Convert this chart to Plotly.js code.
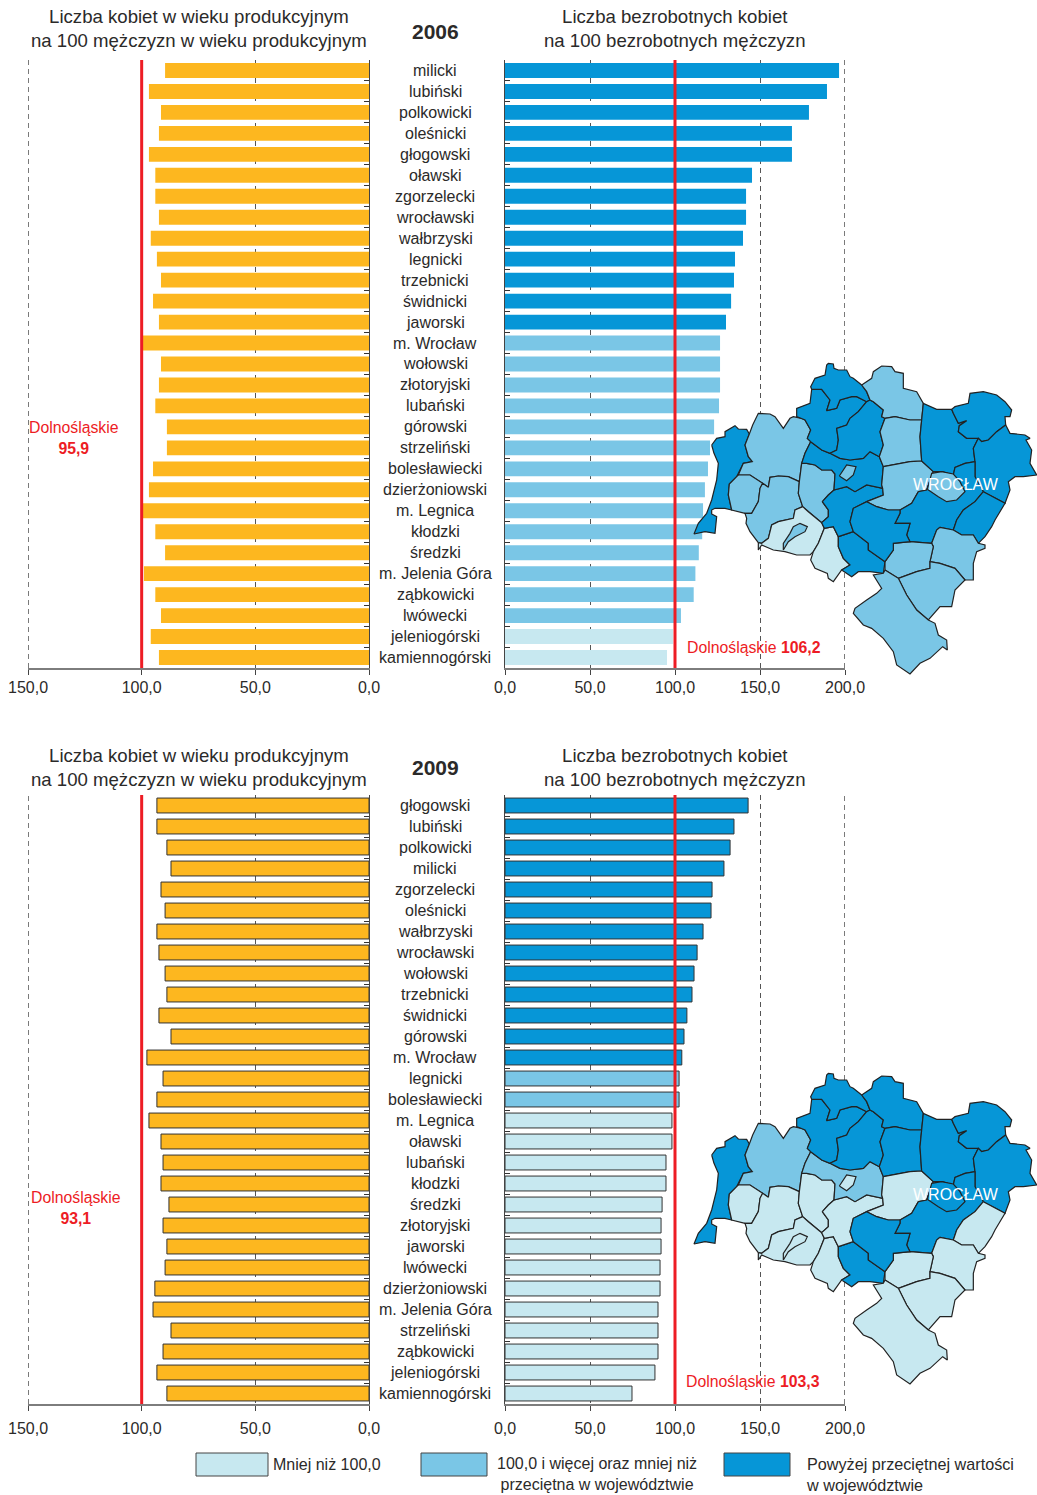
<!DOCTYPE html>
<html lang="pl">
<head>
<meta charset="utf-8">
<script src="https://cdn.plot.ly/plotly-3.0.1.min.js"></script>
<style>html,body{margin:0;padding:0;background:#fff}</style>
</head>
<body>
<div id="chart" style="width:1037px;height:1495px"></div>
<script>
// ---------- data ----------
const cats2006 = ["milicki","lubiński","polkowicki","oleśnicki","głogowski","oławski","zgorzelecki","wrocławski","wałbrzyski","legnicki","trzebnicki","świdnicki","jaworski","m. Wrocław","wołowski","złotoryjski","lubański","górowski","strzeliński","bolesławiecki","dzierżoniowski","m. Legnica","kłodzki","średzki","m. Jelenia Góra","ząbkowicki","lwówecki","jeleniogórski","kamiennogórski"];
const women2006 = [89.7,96.8,91.5,92.4,96.8,94,94,92.4,96,93.3,91.5,95,92.4,100.3,91.5,92.4,94,88.9,88.9,95,96.8,100.3,94,89.7,99,94,91.5,96,92.4];
const unemp2006 = [196.5,189.4,178.8,168.8,168.8,145.3,141.8,141.8,140,135.3,134.7,133,130,126.5,126.5,126.5,125.9,123,120.6,119.4,117.6,116.5,116,114,112,111,103.5,98.8,95.3];
const class2006 = [2,2,2,2,2,2,2,2,2,2,2,2,2,1,1,1,1,1,1,1,1,1,1,1,1,1,1,0,0];

const cats2009 = ["głogowski","lubiński","polkowicki","milicki","zgorzelecki","oleśnicki","wałbrzyski","wrocławski","wołowski","trzebnicki","świdnicki","górowski","m. Wrocław","legnicki","bolesławiecki","m. Legnica","oławski","lubański","kłodzki","średzki","złotoryjski","jaworski","lwówecki","dzierżoniowski","m. Jelenia Góra","strzeliński","ząbkowicki","jeleniogórski","kamiennogórski"];
const women2009 = [93.3,93.3,88.9,87.1,91.5,89.7,93.3,92.4,89.7,88.9,92.4,87.1,97.7,90.6,93.3,96.8,91.5,90.6,91.5,88,90.6,88.9,89.7,94.2,95,87.1,90.6,93.3,88.9];
const unemp2009 = [143,134.7,132.4,128.8,121.8,121.2,116.5,113,111.2,110,107,105.3,104,102.4,102.4,98.2,98.2,94.7,94.7,92.4,91.8,91.8,91.2,91.2,90,90,90,88.2,74.7];
const class2009 = [2,2,2,2,2,2,2,2,2,2,2,2,2,1,1,0,0,0,0,0,0,0,0,0,0,0,0,0,0];

const womenTicks = [150,100,50,0];
const unempTicks = [0,50,100,150,200];
const womenTickText = ["150,0","100,0","50,0","0,0"];
const unempTickText = ["0,0","50,0","100,0","150,0","200,0"];
const refLine = 100;
const womenEdge = 150;
const unempEdge = 200;
const classColors = ["#C7E8F0","#7AC6E6","#0696D7"];
const legendLabels = ["Mniej niż 100,0","100,0 i więcej oraz mniej niż<br>przeciętna w województwie","Powyżej przeciętnej wartości<br>w województwie"];
const leftTitle = "Liczba kobiet w wieku produkcyjnym<br>na 100 mężczyzn w wieku produkcyjnym";
const rightTitle = "Liczba bezrobotnych kobiet<br>na 100 bezrobotnych mężczyzn";

// ---------- map outlines (map units) ----------
const zgorzelecki = [[65,285],[80,265],[105,260],[105,245],[135,227],[145,237],[170,238],[178,252],[165,285],[175,320],[187,335],[160,340],[145,370],[140,380],[118,402],[115,435],[125,480],[105,475],[75,475],[65,480],[65,492],[80,500],[75,550],[45,545],[12,552],[25,520],[50,490],[65,450],[80,390],[85,340],[72,310]];
const boleslawiecki = [[178,252],[188,225],[205,190],[240,192],[255,200],[280,235],[300,205],[310,200],[335,205],[345,210],[362,240],[352,265],[362,275],[345,310],[335,340],[328,395],[295,380],[265,378],[240,382],[235,412],[218,400],[195,385],[180,375],[145,375],[160,340],[187,335],[175,320],[165,285]];
const lubanski = [[145,375],[180,375],[218,400],[210,415],[205,455],[185,490],[165,490],[140,485],[125,480],[115,435],[118,402],[140,380]];
const lwowecki = [[235,412],[240,382],[265,378],[295,380],[328,395],[325,430],[338,470],[315,480],[310,505],[265,515],[245,525],[235,565],[215,580],[205,578],[180,545],[168,520],[170,505],[165,490],[185,490],[205,455],[210,415],[218,400]];
const zlotoryjski = [[335,340],[350,340],[375,345],[395,360],[425,360],[435,372],[432,420],[415,435],[397,455],[415,480],[415,500],[395,518],[385,510],[355,485],[338,470],[325,430],[328,395]];
const jeleniogorski = [[205,578],[215,580],[235,565],[245,525],[265,515],[310,505],[315,480],[338,470],[355,485],[385,510],[395,518],[403,535],[385,580],[370,605],[360,615],[320,615],[285,605],[250,600],[215,585],[205,600]];
const kamiennogorski = [[403,535],[430,530],[445,560],[445,590],[460,625],[480,645],[455,660],[430,695],[415,685],[412,670],[375,655],[362,630],[370,605],[385,580]];
const walbrzyski = [[445,560],[490,545],[535,580],[535,600],[585,635],[580,670],[540,665],[505,665],[485,680],[455,660],[480,645],[460,625],[445,590]];
const jaworski = [[397,455],[415,435],[432,420],[470,410],[495,425],[530,405],[578,415],[580,435],[530,455],[490,475],[480,515],[490,545],[445,560],[430,530],[403,535],[395,518],[415,500],[415,480]];
const legnicki = [[362,275],[345,310],[335,340],[350,340],[375,345],[395,360],[425,360],[435,372],[432,420],[470,410],[495,425],[530,405],[578,415],[575,405],[580,350],[568,320],[540,305],[520,325],[480,330],[450,325],[420,310],[395,300]];
const polkowicki = [[362,275],[395,300],[420,310],[440,300],[445,270],[440,235],[470,225],[480,205],[505,185],[530,155],[500,140],[485,140],[450,150],[440,175],[410,182],[420,150],[395,118],[365,118],[360,160],[320,175],[320,200],[335,205],[345,210],[362,240],[352,265]];
const glogowski = [[365,118],[362,110],[375,85],[405,75],[410,45],[415,40],[430,42],[432,55],[445,60],[470,60],[480,80],[490,85],[515,105],[530,125],[540,150],[530,155],[500,140],[485,140],[450,150],[440,175],[410,182],[420,150],[395,118]];
const lubinski = [[530,155],[540,150],[550,155],[580,180],[575,200],[585,205],[570,245],[580,285],[568,320],[540,305],[520,325],[480,330],[450,325],[420,310],[440,300],[445,270],[440,235],[470,225],[480,205],[505,185]];
const gorowski = [[515,105],[545,85],[550,65],[575,48],[605,50],[615,65],[640,70],[640,115],[680,125],[690,145],[700,160],[695,210],[660,210],[615,200],[585,205],[575,200],[580,180],[550,155],[540,150],[530,125]];
const wolowski = [[585,205],[615,200],[660,210],[695,210],[690,260],[695,333],[660,335],[580,350],[568,320],[580,285],[570,245]];
const sredzki = [[580,350],[660,335],[695,333],[730,365],[710,420],[685,425],[665,460],[630,480],[595,480],[560,470],[530,455],[580,435],[578,415],[575,405]];
const trzebnicki = [[695,210],[700,160],[740,178],[785,178],[790,190],[805,220],[830,212],[808,227],[805,245],[830,265],[865,265],[850,295],[855,335],[825,340],[795,352],[790,375],[755,365],[730,365],[695,333],[690,260]];
const milicki = [[790,190],[785,178],[795,170],[835,160],[840,130],[880,125],[920,135],[945,155],[965,180],[960,200],[945,200],[947,225],[920,245],[895,270],[875,275],[865,265],[830,265],[805,245],[808,227],[830,212],[805,220]];
const olesnicki = [[855,335],[850,295],[865,265],[875,275],[895,270],[920,245],[947,225],[960,250],[1005,255],[1020,265],[1008,270],[1025,300],[1020,340],[1040,375],[1000,380],[975,380],[955,395],[960,420],[945,460],[905,438],[880,425],[855,380]];
const wroclawski = [[685,425],[710,420],[730,365],[755,365],[790,375],[795,352],[825,340],[855,335],[855,380],[880,425],[855,455],[820,480],[800,510],[790,540],[750,532],[740,540],[725,580],[660,575],[650,555],[660,520],[615,520],[630,490],[630,480],[665,460]];
const mWroclaw = [[712,418],[725,370],[755,365],[790,372],[810,395],[825,425],[800,450],[770,455],[745,440]];
const olawski = [[880,425],[905,438],[945,460],[915,510],[905,530],[885,560],[865,580],[850,555],[815,555],[790,540],[800,510],[820,480],[855,455]];
const strzelinski = [[750,532],[790,540],[815,555],[850,555],[865,580],[885,585],[885,595],[860,605],[850,640],[850,690],[825,690],[795,655],[750,640],[720,635],[730,590],[725,580],[740,540]];
const dzierzoniowski = [[610,580],[660,575],[725,580],[730,590],[720,635],[720,655],[680,665],[625,685],[585,660],[585,635],[610,600]];
const swidnicki = [[480,515],[490,475],[530,455],[560,470],[595,480],[630,480],[630,490],[615,520],[660,520],[650,555],[660,575],[610,580],[610,600],[585,635],[535,600],[535,580],[490,545]];
const zabkowicki = [[625,685],[680,665],[720,655],[720,635],[750,640],[795,655],[825,690],[795,720],[785,770],[750,770],[715,810],[680,780],[650,735]];
const klodzki = [[585,660],[625,685],[650,735],[680,780],[715,810],[735,820],[745,855],[770,870],[772,900],[758,890],[720,925],[690,940],[660,972],[620,945],[610,905],[580,865],[545,835],[520,825],[490,790],[495,775],[530,750],[560,730],[575,715],[550,675],[580,670]];
const mLegnica = [[448,378],[470,345],[498,350],[490,375],[470,392]];
const mJeleniaGora = [[280,600],[280,580],[300,550],[310,530],[330,520],[352,530],[345,545],[315,560],[295,575]];
const powiatOutlines = [["zgorzelecki",zgorzelecki],["bolesławiecki",boleslawiecki],["lubański",lubanski],["lwówecki",lwowecki],["złotoryjski",zlotoryjski],["jeleniogórski",jeleniogorski],["kamiennogórski",kamiennogorski],["wałbrzyski",walbrzyski],["jaworski",jaworski],["legnicki",legnicki],["polkowicki",polkowicki],["głogowski",glogowski],["lubiński",lubinski],["górowski",gorowski],["wołowski",wolowski],["średzki",sredzki],["trzebnicki",trzebnicki],["milicki",milicki],["oleśnicki",olesnicki],["wrocławski",wroclawski],["oławski",olawski],["strzeliński",strzelinski],["dzierżoniowski",dzierzoniowski],["świdnicki",swidnicki],["ząbkowicki",zabkowicki],["kłodzki",klodzki],["m. Wrocław",mWroclaw],["m. Legnica",mLegnica],["m. Jelenia Góra",mJeleniaGora]];

// ---------- layout helpers ----------
const W = 1037, H = 1495;
const FONT = "Liberation Sans, Arial, sans-serif";
const INK = "#2b2a29", RED = "#ED1C24", ORANGE = "#FDB71F";
const dx = (a,b)=>[a/W,b/W];
const dy = (top,bot)=>[1-bot/H,1-top/H];
const rows = [
  {year:"2006",cats:cats2006,women:women2006,unemp:unemp2006,cls:class2006,top:60,bot:668,outline:0,stand:-1,axisW:2,
   avgL:"Dolnośląskie<br><b>95,9</b>",avgLy:437.5,avgLx:74,avgR:"Dolnośląskie <b>106,2</b>",avgRy:647,avgRx:754,titleY:29,yearY:31,wroY:484,mapTop:350},
  {year:"2009",cats:cats2009,women:women2009,unemp:unemp2009,cls:class2009,top:795,bot:1404,outline:1,stand:4,axisW:1.5,
   avgL:"Dolnośląskie<br><b>93,1</b>",avgLy:1207.5,avgLx:76,avgR:"Dolnośląskie <b>103,3</b>",avgRy:1381,avgRx:753,titleY:767,yearY:767,wroY:1194,mapTop:1060}
];
const traces = [];
const layout = {
  width:W,height:H,autosize:false,margin:{l:0,r:0,t:0,b:0},
  paper_bgcolor:"#fff",plot_bgcolor:"rgba(0,0,0,0)",showlegend:false,
  font:{family:FONT,size:16,color:INK},bargap:0.29,hovermode:false,
  shapes:[],annotations:[]
};
const txt = (text,xpx,ypx,size,extra={})=>layout.annotations.push(Object.assign({
  text,xref:"paper",yref:"paper",x:xpx/W,y:1-ypx/H,showarrow:false,align:"center",
  xanchor:"center",yanchor:"middle",font:{family:FONT,size,color:INK},borderpad:0},extra));

rows.forEach((r,i)=>{
  const n = i*3;
  const ax = k=>k===0?"":String(k+1);
  const [a,b,c] = [ax(n),ax(n+1),ax(n+2)];
  const xAxis = k=>"xaxis"+k, yAxis = k=>"yaxis"+k;
  const yCommon = {type:"category",categoryorder:"array",categoryarray:r.cats,range:[r.cats.length-0.5,-0.5],
    domain:dy(r.top,r.bot),showgrid:false,zeroline:false,showticklabels:false,showline:true,linecolor:"#444",linewidth:1,
    ticks:"inside",ticklen:5,tickcolor:"#333",tickwidth:1,tickson:"boundaries",fixedrange:true};
  const xCommon = {showgrid:true,griddash:"5px,4px",gridcolor:"#555",gridwidth:1,zeroline:false,showline:true,
    linecolor:"#7d7d7d",linewidth:r.axisW,ticks:"outside",ticklen:5,tickcolor:"#444",tickwidth:1,tickfont:{family:FONT,size:16,color:INK},
    ticklabelstandoff:r.stand,tickmode:"array",fixedrange:true};
  layout[xAxis(a)] = Object.assign({},xCommon,{domain:dx(28,369),range:[150,0],tickvals:womenTicks,ticktext:womenTickText,anchor:"y"+a});
  layout[yAxis(a)] = Object.assign({},yCommon,{anchor:"x"+a,side:"right"});
  layout[xAxis(b)] = Object.assign({},xCommon,{domain:dx(505,845),range:[0,200],tickvals:unempTicks,ticktext:unempTickText,anchor:"y"+b});
  layout[yAxis(b)] = Object.assign({},yCommon,{anchor:"x"+b,side:"left"});
  layout[xAxis(c)] = {domain:dx(690,1037),range:[0,1041],visible:false,fixedrange:true,anchor:"y"+c};
  layout[yAxis(c)] = {domain:dy(r.mapTop,r.mapTop+340),range:[1020,0],visible:false,fixedrange:true,anchor:"x"+c};

  traces.push({type:"bar",orientation:"h",y:r.cats,x:r.women,xaxis:"x"+a,yaxis:"y"+a,
    marker:{color:ORANGE,line:{color:"#333",width:r.outline}}});
  traces.push({type:"bar",orientation:"h",y:r.cats,x:r.unemp,xaxis:"x"+b,yaxis:"y"+b,
    marker:{color:r.cls.map(k=>classColors[k]),line:{color:"#333",width:r.outline}}});
  powiatOutlines.forEach(([name,pts])=>{
    traces.push({type:"scatter",mode:"lines",x:pts.map(p=>p[0]).concat(pts[0][0]),y:pts.map(p=>p[1]).concat(pts[0][1]),
      fill:"toself",fillcolor:classColors[r.cls[r.cats.indexOf(name)]],line:{color:"#222",width:1.2},
      xaxis:"x"+c,yaxis:"y"+c,name});
  });
  // dashed edge gridlines (Plotly leaves the range ends without a gridline)
  [["x"+a,womenEdge],["x"+b,unempEdge]].forEach(([xr,v])=>layout.shapes.push({type:"line",xref:xr,yref:"paper",x0:v,x1:v,
    y0:1-r.bot/H,y1:1-r.top/H,line:{color:"#222",width:1.2,dash:"5px,4px"},layer:"below"}));
  ["x"+a,"x"+b].forEach(xr=>layout.shapes.push({type:"line",xref:xr,yref:"paper",x0:refLine,x1:refLine,
    y0:1-r.bot/H,y1:1-r.top/H,line:{color:RED,width:3},layer:"above"}));
  r.cats.forEach((name,j)=>layout.annotations.push({text:name,xref:"paper",x:435/W,yref:"y"+a,y:j,showarrow:false,
    xanchor:"center",yanchor:"middle",font:{family:FONT,size:16,color:INK}}));
  txt(leftTitle,199,r.titleY,18.6);
  txt(rightTitle,675,r.titleY,18.6);
  txt("<b>"+r.year+"</b>",435,r.yearY,21);
  txt(r.avgL,r.avgLx,r.avgLy,15.8,{font:{family:FONT,size:15.8,color:RED}});
  txt(r.avgR,r.avgRx,r.avgRy,15.8,{font:{family:FONT,size:15.8,color:RED}});
  txt("WROCŁAW",956,r.wroY,16,{font:{family:FONT,size:16,color:"#fff"}});
});

// legend
[[196,268,0],[421,487,1],[724,790,2]].forEach(([x0,x1,k])=>layout.shapes.push({type:"rect",xref:"paper",yref:"paper",
  x0:x0/W,x1:x1/W,y0:1-1476/H,y1:1-1453/H,fillcolor:classColors[k],line:{color:"#444",width:1}}));
txt(legendLabels[0],327,1464,16);
txt(legendLabels[1],596.5,1474,16);
txt(legendLabels[2],805,1474,16.2,{xanchor:"left",align:"left"});

Plotly.newPlot("chart",traces,layout,{staticPlot:true,displayModeBar:false});
</script>
</body>
</html>
